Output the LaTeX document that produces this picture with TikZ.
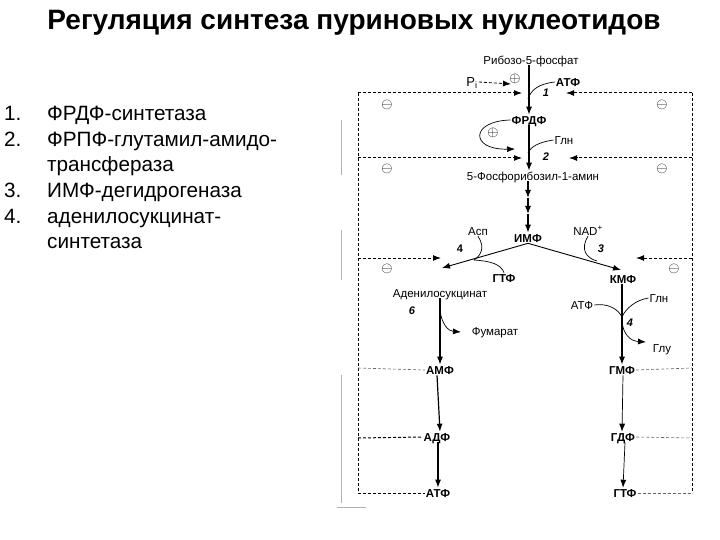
\documentclass[tikz,border=0pt]{standalone}
\usepackage{fontspec}
\setmainfont{Liberation Sans}
\usetikzlibrary{arrows.meta}
\begin{document}
\begin{tikzpicture}[x=1pt,y=-1pt,
  lbl/.style={font=\fontsize{11.5}{12}\selectfont, inner sep=1pt, text height=8.2pt, text depth=0pt},
  met/.style={font=\fontsize{11.5}{12}\selectfont\bfseries, inner sep=1pt, text height=8.2pt, text depth=0pt},
  num/.style={font=\fontsize{11}{12}\selectfont\bfseries\itshape, inner sep=0pt},
  sgn/.style={font=\fontsize{14}{14}\selectfont, inner sep=0pt},
  listn/.style={font=\fontsize{20.7}{24}\selectfont, anchor=west, inner sep=0pt, text height=15pt, text depth=0pt},
  main/.style={line width=1.2pt, -{Latex[length=8pt,width=6pt]}},
  thinarr/.style={line width=0.7pt, -{Latex[length=8pt,width=6pt]}},
  side/.style={line width=0.7pt},
  fb/.style={line width=1pt, dash pattern=on 3pt off 2pt},
  fblight/.style={line width=0.6pt, dash pattern=on 3pt off 2pt, black!60},
  fbarrow/.style={fb, -{Latex[length=8pt,width=6pt]}},
  frame/.style={line width=0.5pt, black!30}
]
\useasboundingbox (0,0) rectangle (720,540);

% title
\node[font=\fontsize{28}{30}\selectfont\bfseries] (title) at (354,23) {Регуляция синтеза пуриновых нуклеотидов};

% list
\node[listn] (n1) at (4,113) {1.};
\node[listn] (t1) at (47,113) {ФРДФ-синтетаза};
\node[listn] (n2) at (4,139) {2.};
\node[listn] (t2) at (47,139) {ФРПФ-глутамил-амидо-};
\node[listn] (t2b) at (47,164) {трансфераза};
\node[listn] (n3) at (4,190) {3.};
\node[listn] (t3) at (47,190) {ИМФ-дегидрогеназа};
\node[listn] (n4) at (4,216) {4.};
\node[listn] (t4) at (47,216) {аденилосукцинат-};
\node[listn] (t4b) at (47,241) {синтетаза};

% frame artefacts
\draw[frame] (341,120) -- (341,175);
\draw[frame] (341,230) -- (341,280);
\draw[frame] (341,375) -- (341,503);
\draw[frame] (337,507) -- (366,507);

% labels
\node[lbl] (rib) at (531,60) {Рибозо-5-фосфат};
\node[lbl, font=\fontsize{13}{14}\selectfont] (pi) at (472,82) {P\textsubscript{i}};
\node[sgn, font=\fontsize{15}{15}\selectfont] (plus1) at (515,79) {$\oplus$};
\node[met] (atf1) at (568,82) {АТФ};
\node[num] (s1) at (546,93) {1};
\node[met] (frdf) at (529,120) {ФРДФ};
\node[sgn, font=\fontsize{15}{15}\selectfont] (plus2) at (493,133) {$\oplus$};
\node[lbl] (gln1) at (564,140) {Глн};
\node[num] (s2) at (546,157) {2};
\node[lbl] (prpa) at (533,176) {5-Фосфорибозил-1-амин};
\node[met] (imf) at (528,238) {ИМФ};
\node[lbl] (asp) at (478,231) {Асп};
\node[lbl] (nad) at (588,231) {NAD\textsuperscript{+}};
\node[num, font=\fontsize{11}{12}\selectfont\bfseries] (s4a) at (460,249) {4};
\node[num] (s3) at (601,249) {3};
\node[met] (gtf1) at (504,278) {ГТФ};
\node[met] (kmf) at (623,279) {КМФ};
\node[lbl] (ads) at (440,293) {Аденилосукцинат};
\node[num] (s6) at (412,311) {6};
\node[lbl] (fum) at (495,331) {Фумарат};
\node[lbl] (atf2) at (582,305) {АТФ};
\node[lbl] (gln2) at (659,298) {Глн};
\node[num] (s4b) at (630,323) {4};
\node[lbl] (glu) at (662,348) {Глу};
\node[met] (amf) at (440,370) {АМФ};
\node[met] (gmf) at (622,370) {ГМФ};
\node[met] (adf) at (437,437) {АДФ};
\node[met] (gdf) at (623,437) {ГДФ};
\node[met] (atf3) at (438,493) {АТФ};
\node[met] (gtf2) at (625,493) {ГТФ};

% minus signs
\node[sgn] (m1l) at (387,105) {$\ominus$};
\node[sgn] (m1r) at (662,105) {$\ominus$};
\node[sgn] (m2l) at (387,169) {$\ominus$};
\node[sgn] (m2r) at (662,169) {$\ominus$};
\node[sgn] (m3l) at (387,269) {$\ominus$};
\node[sgn] (m3r) at (674,269) {$\ominus$};

% coordinates
\coordinate (LT) at (358,93);
\coordinate (RT) at (692,93);
\coordinate (LB) at (358,493);
\coordinate (RB) at (692,493);
\coordinate (L2) at (358,158);
\coordinate (R2) at (692,158);
\coordinate (L3) at (358,258);
\coordinate (R3) at (692,258);
\coordinate (L4) at (358,368);
\coordinate (R4) at (692,368);
\coordinate (L5) at (358,438);
\coordinate (R5) at (692,438);
\coordinate (a1l) at (522,93);
\coordinate (a1r) at (566,93);
\coordinate (a2l) at (522,158);
\coordinate (a2r) at (569,158);
\coordinate (a3l) at (441,258);
\coordinate (a3r) at (636,258);
\coordinate (pit) at (511,84);
\coordinate (j1) at (528,99);
\coordinate (j2) at (528,153);
\coordinate (tr1) at (528,198);
\coordinate (tr2) at (528,214);
\coordinate (bl) at (442,268);
\coordinate (br) at (621,270);
\coordinate (jl) at (474,260);
\coordinate (jr) at (597,261);
\coordinate (jf) at (440,311);
\coordinate (fumt) at (461,332);
\coordinate (jg) at (622,317);
\coordinate (jg2) at (622,321);
\coordinate (glut) at (646,342);
\coordinate (loopt) at (515,149);

% feedback frame
\draw[fb] (LT) -- (LB);
\draw[fb] (RT) -- (RB);
\draw[fbarrow] (LT) -- (a1l);
\draw[fbarrow] (RT) -- (a1r);
\draw[fbarrow] (L2) -- (a2l);
\draw[fbarrow] (R2) -- (a2r);
\draw[fbarrow] (L3) -- (a3l);
\draw[fbarrow] (R3) -- (a3r);
\draw[fblight] (L4) -- (amf.west);
\draw[fblight] (gmf.east) -- (R4);
\draw[fb] (L5) -- (adf.west);
\draw[fblight] (gdf.east) -- (R5);
\draw[fb] (LB) -- (atf3.west);
\draw[fblight] (gtf2.east) -- (RB);
\draw[line width=0.8pt, dash pattern=on 3pt off 2pt, -{Latex[length=8pt,width=6pt]}] (pi.east) -- (pit);

% main pathway
\draw[main] (rib.south -| frdf.north) -- (frdf.north);
\draw[main] (frdf.south) -- (prpa.north -| frdf.south);
\draw[main] (prpa.south -| tr1) -- (tr1);
\draw[main] (tr1) -- (tr2);
\draw[main] (tr2) -- (imf.north);
\draw[line width=0.9pt, -{Latex[length=8pt,width=6pt]}] (imf.south) -- (bl);
\draw[line width=0.9pt, -{Latex[length=8pt,width=6pt]}] (imf.south) -- (br);
\draw[main] (ads.south) -- (amf.north);
\draw[main] (kmf.south -| gmf.north) -- (gmf.north);
\draw[main] (amf.south -| adf.north) -- (adf.north -| amf.south);
\draw[thinarr] (gmf.south -| gdf.north) -- (gdf.north -| gmf.south);
\draw[main] (adf.south -| atf3.north) -- (atf3.north);
\draw[thinarr] (gdf.south -| gtf2.north) -- (gtf2.north -| gdf.south);

% side reactions
\draw[side] (atf1.west) .. controls (538,84) and (531,90) .. (j1);
\draw[side, -{Latex[length=8pt,width=6pt]}] (frdf.west) .. controls (470,121) and (470,150) .. (loopt);
\draw[side] (gln1.west) .. controls (540,142) and (531,146) .. (j2);
\draw[side] (asp.south) .. controls (486,248) and (480,256) .. (jl);
\draw[side] (jl) .. controls (490,261) and (501,264) .. (gtf1.north);
\draw[side] (nad.south) .. controls (580,249) and (586,258) .. (jr);
\draw[side, -{Latex[length=8pt,width=6pt]}] (jf) .. controls (442,324) and (448,331) .. (fumt);
\draw[side] (atf2.east) .. controls (608,303) and (618,309) .. (jg);
\draw[side] (gln2.west) .. controls (636,300) and (626,308) .. (jg);
\draw[side, -{Latex[length=8pt,width=6pt]}] (jg2) .. controls (623,334) and (630,341) .. (glut);
\end{tikzpicture}
\end{document}
